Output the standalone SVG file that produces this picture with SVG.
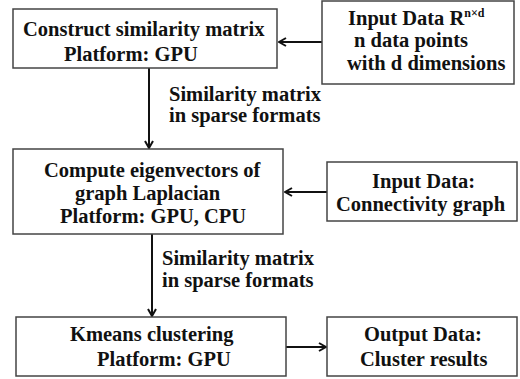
<svg xmlns="http://www.w3.org/2000/svg" width="520" height="379" viewBox="0 0 520 379">
<defs>
<marker id="ah" viewBox="0 0 10 10" refX="9" refY="5" markerWidth="10" markerHeight="10" markerUnits="userSpaceOnUse" orient="auto">
<path d="M2,1 L9,5 L2,9" fill="none" stroke="#111" stroke-width="2"/>
</marker>
<style>
.box{fill:#fff;stroke:#444;stroke-width:1.5}
.sup{font-size:12px}
.c{stroke:#111;stroke-width:2;fill:none;marker-end:url(#ah)}
</style>
</defs>
<rect width="520" height="379" fill="#fff"/>
<g font-family="Liberation Serif, DejaVu Serif, serif" font-weight="bold" font-size="20.5" fill="#111">
<g id="connectors">
<line class="c" x1="322" y1="42" x2="279" y2="42"/>
<line class="c" x1="149" y1="68" x2="149" y2="148"/>
<line class="c" x1="327" y1="192" x2="285" y2="192"/>
<line class="c" x1="152" y1="234" x2="152" y2="316"/>
<line class="c" x1="286" y1="347" x2="326" y2="347"/>
<text x="169" y="101">Similarity matrix</text>
<text x="169" y="122">in sparse formats</text>
<text x="162" y="265">Similarity matrix</text>
<text x="162" y="287">in sparse formats</text>
</g>
<g id="construct">
<rect class="box" x="13" y="9" width="264" height="59"/>
<text x="23" y="36">Construct similarity matrix</text>
<text x="64" y="61">Platform: GPU</text>
</g>
<g id="input-data">
<rect class="box" x="322" y="1" width="192" height="83"/>
<text x="348" y="25">Input Data R<tspan class="sup" dy="-8">n×d</tspan></text>
<text x="354" y="47">n data points</text>
<text x="347" y="70">with d dimensions</text>
</g>
<g id="eigen">
<rect class="box" x="13" y="149" width="270" height="85"/>
<text x="44" y="177">Compute eigenvectors of</text>
<text x="75" y="200">graph Laplacian</text>
<text x="60" y="223">Platform: GPU, CPU</text>
</g>
<g id="connectivity">
<rect class="box" x="327" y="162" width="190" height="59"/>
<text x="372" y="188">Input Data:</text>
<text x="336" y="211">Connectivity graph</text>
</g>
<g id="kmeans">
<rect class="box" x="16" y="317" width="270" height="59"/>
<text x="70" y="341">Kmeans clustering</text>
<text x="97" y="366">Platform: GPU</text>
</g>
<g id="output">
<rect class="box" x="327" y="317" width="190" height="59"/>
<text x="364" y="341">Output Data:</text>
<text x="360" y="366">Cluster results</text>
</g>
</g>
</svg>
